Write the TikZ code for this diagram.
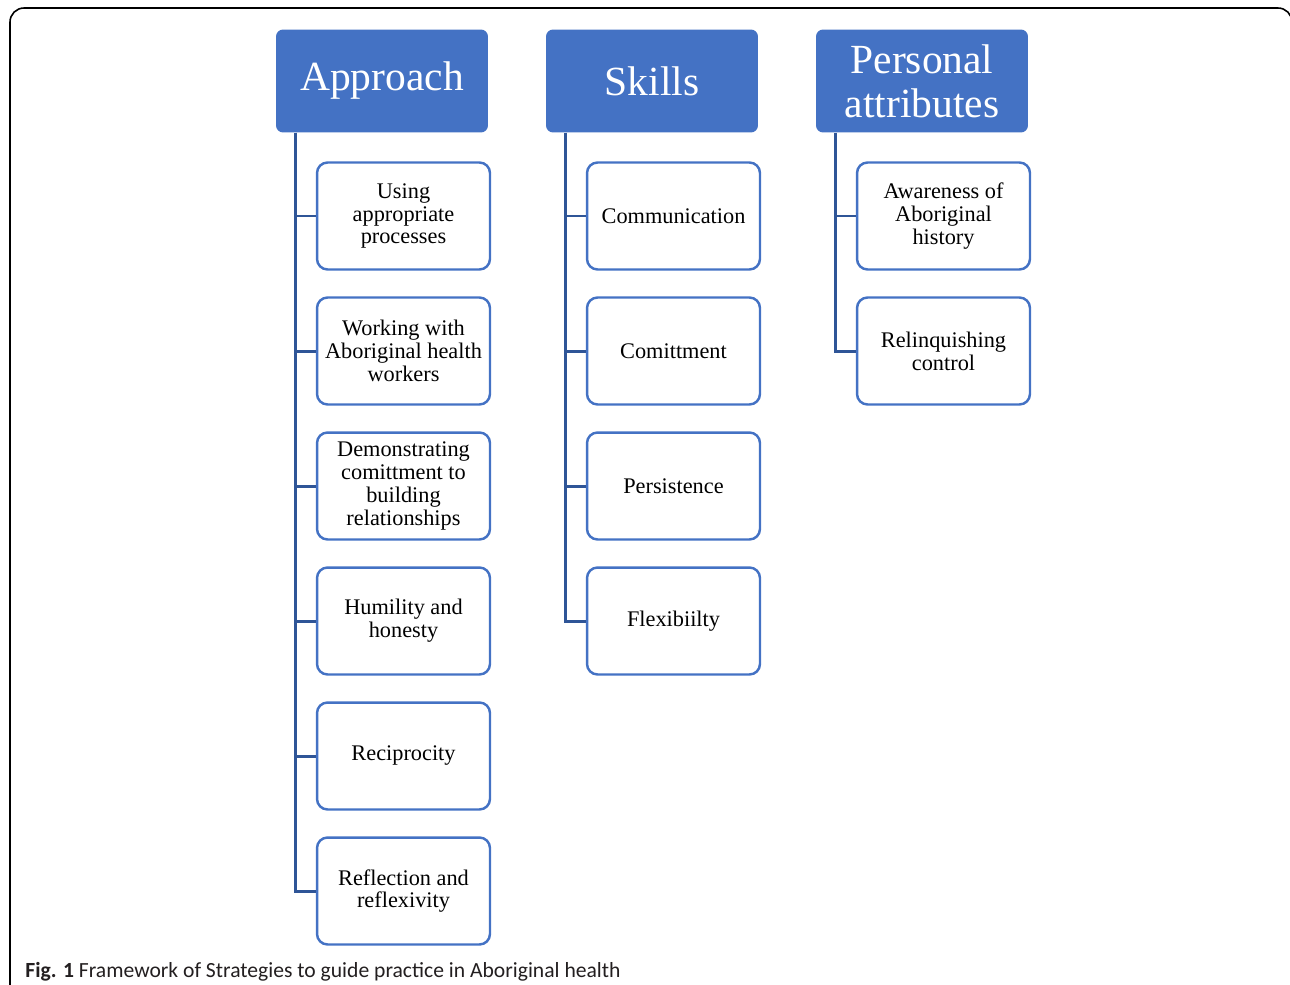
\documentclass[tikz,border=0pt]{standalone}
\usepackage{fontspec}
\setmainfont{Liberation Serif}
\newfontfamily\capfont{Carlito}
\definecolor{hdblue}{HTML}{4472C4}
\definecolor{lnblue}{HTML}{2F5597}
\definecolor{captext}{HTML}{231F20}
\tikzset{
  head/.style={fill=hdblue, text=white, rounded corners=4pt, minimum width=4.24cm,
    minimum height=2.06cm, align=center, inner sep=0pt,
    font=\fontsize{23.6}{25}\selectfont},
  item/.style={draw=hdblue, line width=1.4pt, fill=white, rounded corners=6pt,
    minimum width=3.46cm, minimum height=2.14cm, align=center, inner sep=0pt,
    font=\fontsize{12.7}{13}\selectfont},
  link/.style={draw=lnblue, line width=1.7pt}
}
\begin{document}
\begin{tikzpicture}[x=0.02cm, y=-0.02cm]
    \useasboundingbox (0,0) rectangle (1290,984);
    \clip (0,0) rectangle (1290,984);
    % outer frame
    \draw[line width=0.9pt, rounded corners=8pt] (10,1010) -- (10,8) -- (1292,8) -- (1292,1010);

    % column heads
    \node[head] (ap) at (382,81) {Approach};
    \node[head] (sk) at (652,81) {Skills};
    \node[head] (pa) at (922,81) {Personal\\attributes};

    % approach
    \node[item] (ap1) at (403.5,216) {Using\\appropriate\\processes};
    \node[item] (ap2) at (403.5,351) {Working with\\Aboriginal health\\workers};
    \node[item] (ap3) at (403.5,486) {Demonstrating\\comittment to\\building\\relationships};
    \node[item] (ap4) at (403.5,621) {Humility and\\honesty};
    \node[item] (ap5) at (403.5,756) {Reciprocity};
    \node[item] (ap6) at (403.5,891) {Reflection and\\reflexivity};

    % skills
    \node[item] (sk1) at (673.5,216) {Communication};
    \node[item] (sk2) at (673.5,351) {Comittment};
    \node[item] (sk3) at (673.5,486) {Persistence};
    \node[item] (sk4) at (673.5,621) {Flexibiilty};

    % personal attributes
    \node[item] (pa1) at (943.5,216) {Awareness of\\Aboriginal\\history};
    \node[item] (pa2) at (943.5,351) {Relinquishing\\control};

    % connectors
    \draw[link] ([xshift=0.4cm]ap.south west) |- (ap1.west);
    \draw[link] ([xshift=0.4cm]ap.south west) |- (ap2.west);
    \draw[link] ([xshift=0.4cm]ap.south west) |- (ap3.west);
    \draw[link] ([xshift=0.4cm]ap.south west) |- (ap4.west);
    \draw[link] ([xshift=0.4cm]ap.south west) |- (ap5.west);
    \draw[link] ([xshift=0.4cm]ap.south west) |- (ap6.west);
    \draw[link] ([xshift=0.4cm]sk.south west) |- (sk1.west);
    \draw[link] ([xshift=0.4cm]sk.south west) |- (sk2.west);
    \draw[link] ([xshift=0.4cm]sk.south west) |- (sk3.west);
    \draw[link] ([xshift=0.4cm]sk.south west) |- (sk4.west);
    \draw[link] ([xshift=0.4cm]pa.south west) |- (pa1.west);
    \draw[link] ([xshift=0.4cm]pa.south west) |- (pa2.west);

    % caption
    \node[anchor=base west, inner sep=0pt, text=captext,
      font=\capfont\fontsize{12.3}{13}\selectfont] (cap) at (25,977)
      {\textbf{Fig. 1} Framework of Strategies to guide practice in Aboriginal health};
\end{tikzpicture}
\end{document}
